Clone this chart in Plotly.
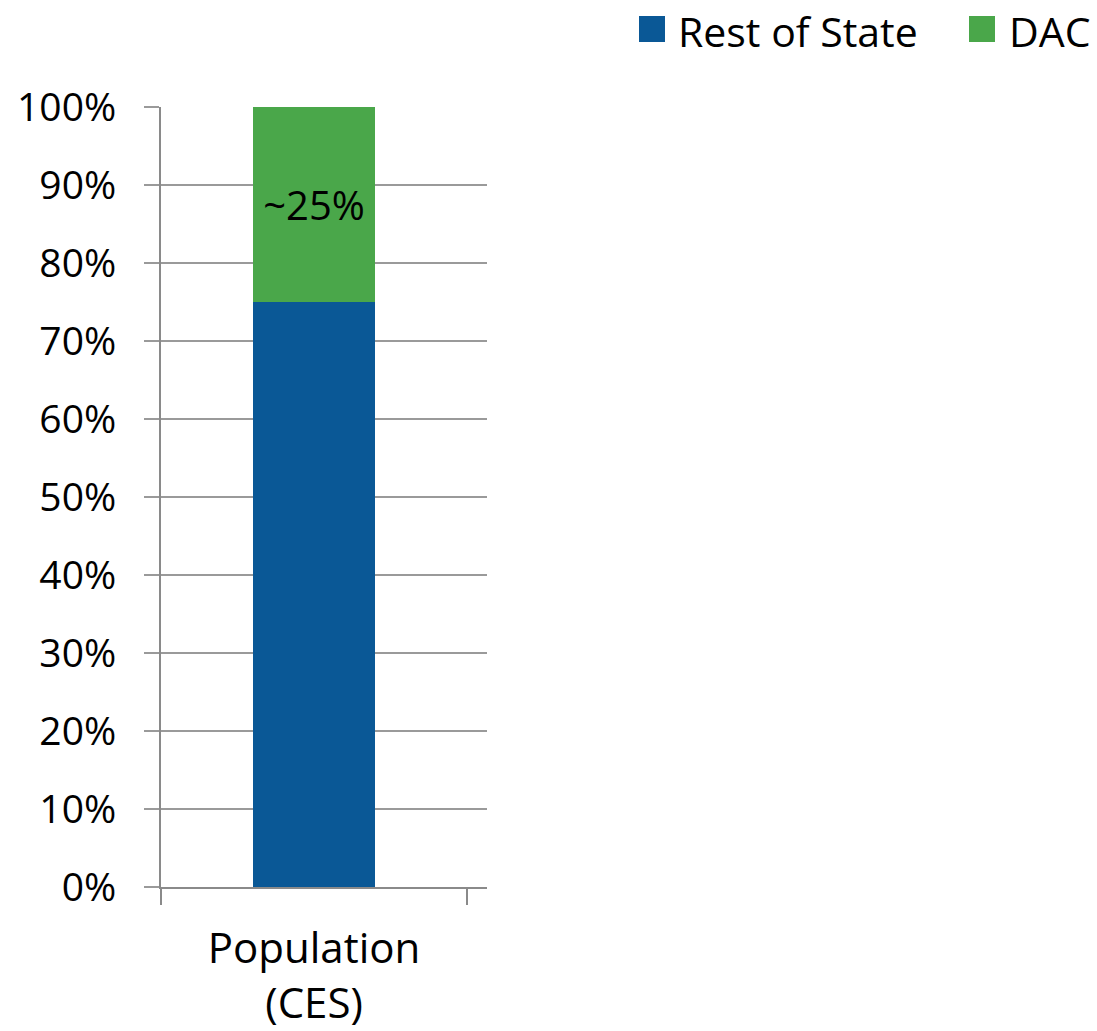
import plotly.graph_objects as go

# Share of population, stacked to 100%
categories = ["Population<br>(CES)"]
series_names = ["Rest of State", "DAC"]
rest_of_state = [0.75]
dac = [0.25]
dac_labels = ["~25%"]
y_tick_values = [0, 0.1, 0.2, 0.3, 0.4, 0.5, 0.6, 0.7, 0.8, 0.9, 1.0]
y_tick_labels = ["0%", "10%", "20%", "30%", "40%", "50%", "60%", "70%", "80%", "90%", "100%"]

BLUE = "#0A5896"
GREEN = "#4AA74A"
FONT = "Open Sans"

fig = go.Figure()
fig.add_trace(go.Bar(
    x=categories, y=rest_of_state, name=series_names[0],
    marker=dict(color=BLUE, line=dict(width=0)),
    width=0.4, showlegend=False,
))
fig.add_trace(go.Bar(
    x=categories, y=dac, name=series_names[1],
    marker=dict(color=GREEN, line=dict(width=0)),
    width=0.4, showlegend=False,
    text=dac_labels, textposition="inside", insidetextanchor="middle",
    textfont=dict(family=FONT, size=40, color="black"),
    constraintext="none", textangle=0,
))

# Legend drawn as colour swatches with labels above the plot
L, R, T, B = 161, 487, 107, 887
legend_items = [(series_names[0], BLUE, 639, 679), (series_names[1], GREEN, 969, 1010)]
def px_x(p):
    return (p - L) / (R - L)
def px_y(p):
    return (B - p) / (B - T)

shapes = []
annotations = []
for name, color, sq_x, tx in legend_items:
    shapes.append(dict(type="rect", xref="paper", yref="paper",
                       x0=px_x(sq_x), x1=px_x(sq_x + 26), y0=px_y(42), y1=px_y(16),
                       fillcolor=color, line=dict(width=0)))
    annotations.append(dict(text=name, xref="paper", yref="paper",
                            x=px_x(tx - 3), y=px_y(31), xanchor="left", yanchor="middle",
                            showarrow=False, font=dict(family=FONT, size=41, color="black")))

fig.update_layout(
    width=1097, height=1031,
    margin=dict(l=L, r=1097 - R, t=T, b=1031 - B, pad=0, autoexpand=False),
    barmode="stack",
    plot_bgcolor="white", paper_bgcolor="white",
    font=dict(family=FONT, color="black"),
    shapes=shapes, annotations=annotations,
    xaxis=dict(
        type="category", range=[-0.5, 0.565], tickson="boundaries",
        ticks="outside", ticklen=16, tickwidth=2, tickcolor="#8A8A8A",
        showgrid=False, showline=True, linecolor="#8A8A8A", linewidth=2,
        tickfont=dict(family=FONT, size=42, color="black"),
        ticklabelstandoff=24, fixedrange=True, automargin=False,
    ),
    yaxis=dict(
        range=[0, 1], tickvals=y_tick_values, ticktext=y_tick_labels,
        ticks="outside", ticklen=15, tickwidth=2, tickcolor="#9A9A9A",
        showgrid=True, gridcolor="#9A9A9A", gridwidth=2,
        showline=True, linecolor="#8A8A8A", linewidth=2,
        zeroline=False,
        tickfont=dict(family=FONT, size=39, color="black"),
        ticklabelstandoff=20, fixedrange=True, automargin=False,
    ),
)

fig.write_html("out.html")
